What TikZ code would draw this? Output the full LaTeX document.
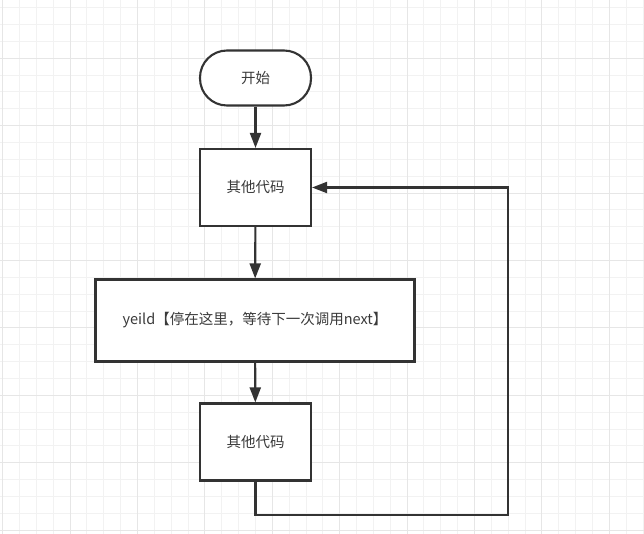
\documentclass[tikz,border=0pt]{standalone}
\usepackage{fontspec}
\setmainfont{Noto Sans CJK SC}
\usetikzlibrary{arrows.meta}
\definecolor{linegray}{HTML}{333333}
\definecolor{textgray}{HTML}{3A3A3A}
\definecolor{gridminor}{HTML}{F2F2F2}
\definecolor{gridmajor}{HTML}{E6E6E6}
\begin{document}
\begin{tikzpicture}[x=1pt,y=-1pt,
    box/.style={draw=linegray,line width=2.1pt,fill=white,text=textgray,
      font=\fontsize{14.5}{17}\selectfont,inner sep=0pt,minimum width=111pt},
    term/.style={box,rounded corners=27pt,minimum height=55pt},
    arr/.style={draw=linegray,line width=2.1pt,-{Triangle[length=15pt,width=11pt]}}]
        \useasboundingbox[fill=white] (0,0) rectangle (644,534);
        \begin{scope}[shift={(2.7,-9.1)}]
        \draw[gridminor,line width=1pt,step=16.85pt] (-3,-1) grid (644,546);
        \draw[gridmajor,line width=1pt,step=67.4pt] (-3,-1) grid (644,546);
        \end{scope}
        
        \node[term] (start) at (255.5,78) {开始};
        \node[box,minimum height=77pt] (code1) at (255.5,187.5) {其他代码};
        \node[box,minimum width=319pt,minimum height=82pt] (yield) at (255,320.5) {yeild【停在这里，等待下一次调用next】};
        \node[box,minimum height=77pt] (code2) at (255.5,442) {其他代码};
        
        \coordinate (C1) at (508.3,515.3);
        
        \draw[arr] (start) -- (code1);
        \draw[arr] (code1) -- (yield);
        \draw[arr] (yield) -- (code2);
        \draw[arr] (code2.south) |- (C1) |- (code1.east);
    \end{tikzpicture}
\end{document}
